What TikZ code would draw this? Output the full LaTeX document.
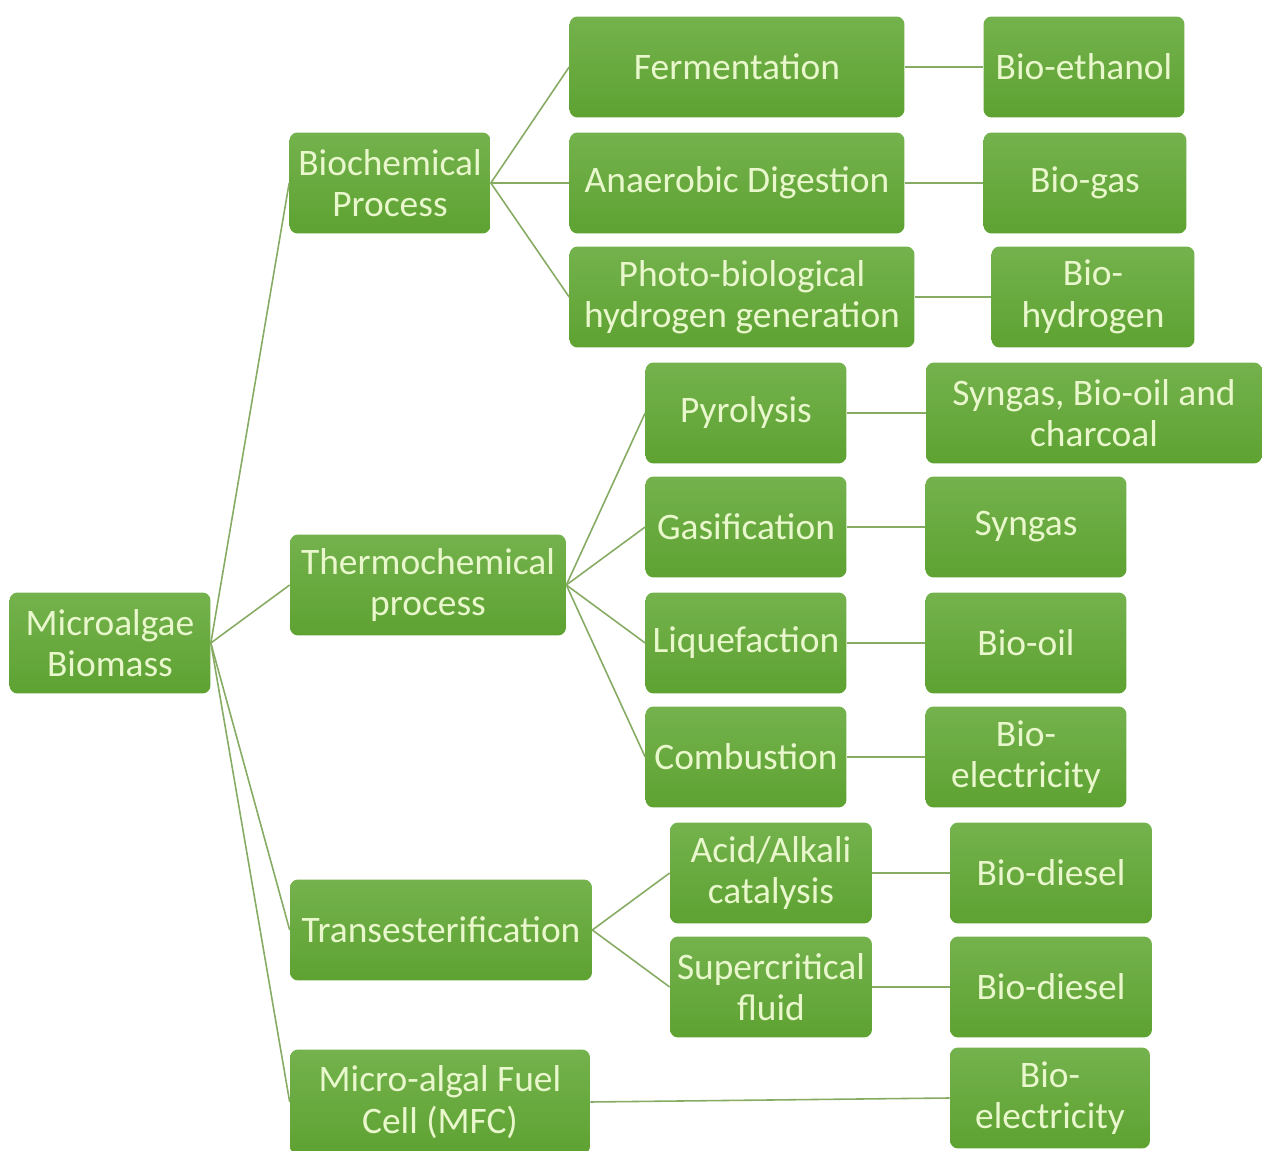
\documentclass[tikz,border=0pt]{standalone}
\usepackage{fontspec}
\setmainfont{Carlito}
\usetikzlibrary{positioning}
\definecolor{boxtop}{HTML}{74B24D}
\definecolor{boxbot}{HTML}{5EA232}
\definecolor{boxtext}{HTML}{E9F7CC}
\definecolor{linkcol}{HTML}{86AB63}
\begin{document}
\begin{tikzpicture}[
    x=0.02cm, y=-0.02cm,
    box/.style={rectangle, rounded corners=0.16cm, top color=boxtop, bottom color=boxbot, draw=none,
        minimum height=2.02cm, inner sep=1pt, align=center, text=boxtext, font=\fontsize{21.3}{23.6}\selectfont},
    link/.style={draw=linkcol, line width=0.9pt}
]
    \useasboundingbox (0,0) rectangle (1262,1151);

    % Root
    \node[box, minimum width=4.02cm] (root) at (110,643) {Microalgae\\Biomass};

    % Conversion routes
    \node[box, minimum width=4.02cm] (bioc) at (390,183) {Biochemical\\Process};
    \node[box, minimum width=5.52cm] (thermo) at (428,585) {Thermochemical\\process};
    \node[box, minimum width=6.04cm] (trans) at (441,930) {Transesterification};
    \node[box, minimum width=6.0cm, minimum height=2.1cm] (mfc) at (440,1102) {Micro-algal Fuel\\Cell (MFC)};

    % Biochemical branch
    \node[box, minimum width=6.7cm] (ferm) at (737,67) {Fermentation};
    \node[box, minimum width=6.7cm] (anaer) at (737,183) {Anaerobic Digestion};
    \node[box, minimum width=6.9cm] (photo) at (742,297) {Photo-biological\\hydrogen generation};
    \node[box, minimum width=4.02cm] (ethanol) at (1084,67) {Bio-ethanol};
    \node[box, minimum width=4.06cm] (biogas) at (1085,183) {Bio-gas};
    \node[box, minimum width=4.06cm] (hydro) at (1093,297) {Bio-\\hydrogen};

    % Thermochemical branch
    \node[box, minimum width=4.02cm] (pyro) at (746,413) {Pyrolysis};
    \node[box, minimum width=4.02cm] (gasi) at (746,527) {Gasification};
    \node[box, minimum width=4.02cm] (lique) at (746,643) {Liquefaction};
    \node[box, minimum width=4.02cm] (comb) at (746,757) {Combustion};
    \node[box, minimum width=6.72cm] (syn3) at (1094,413) {Syngas, Bio-oil and\\charcoal};
    \node[box, minimum width=4.02cm] (syngas) at (1026,527) {Syngas};
    \node[box, minimum width=4.02cm] (biooil) at (1026,643) {Bio-oil};
    \node[box, minimum width=4.02cm] (elec1) at (1026,757) {Bio-\\electricity};

    % Transesterification branch
    \node[box, minimum width=4.04cm] (acid) at (771,873) {Acid/Alkali\\catalysis};
    \node[box, minimum width=4.04cm] (super) at (771,987) {Supercritical\\fluid};
    \node[box, minimum width=4.04cm] (diesel1) at (1051,873) {Bio-diesel};
    \node[box, minimum width=4.04cm] (diesel2) at (1051,987) {Bio-diesel};

    % MFC product
    \node[box, minimum width=4.0cm] (elec2) at (1050,1098) {Bio-\\electricity};

    % Connections
    \foreach \child in {bioc, thermo, trans, mfc}
        \draw[link] (root.east) -- (\child.west);
    \foreach \child in {ferm, anaer, photo}
        \draw[link] (bioc.east) -- (\child.west);
    \foreach \child in {pyro, gasi, lique, comb}
        \draw[link] (thermo.east) -- (\child.west);
    \foreach \child in {acid, super}
        \draw[link] (trans.east) -- (\child.west);
    \draw[link] (mfc.east) -- (elec2.west);
    \foreach \a/\b in {ferm/ethanol, anaer/biogas, photo/hydro, pyro/syn3, gasi/syngas,
        lique/biooil, comb/elec1, acid/diesel1, super/diesel2}
        \draw[link] (\a.east) -- (\b.west);

\end{tikzpicture}
\end{document}
